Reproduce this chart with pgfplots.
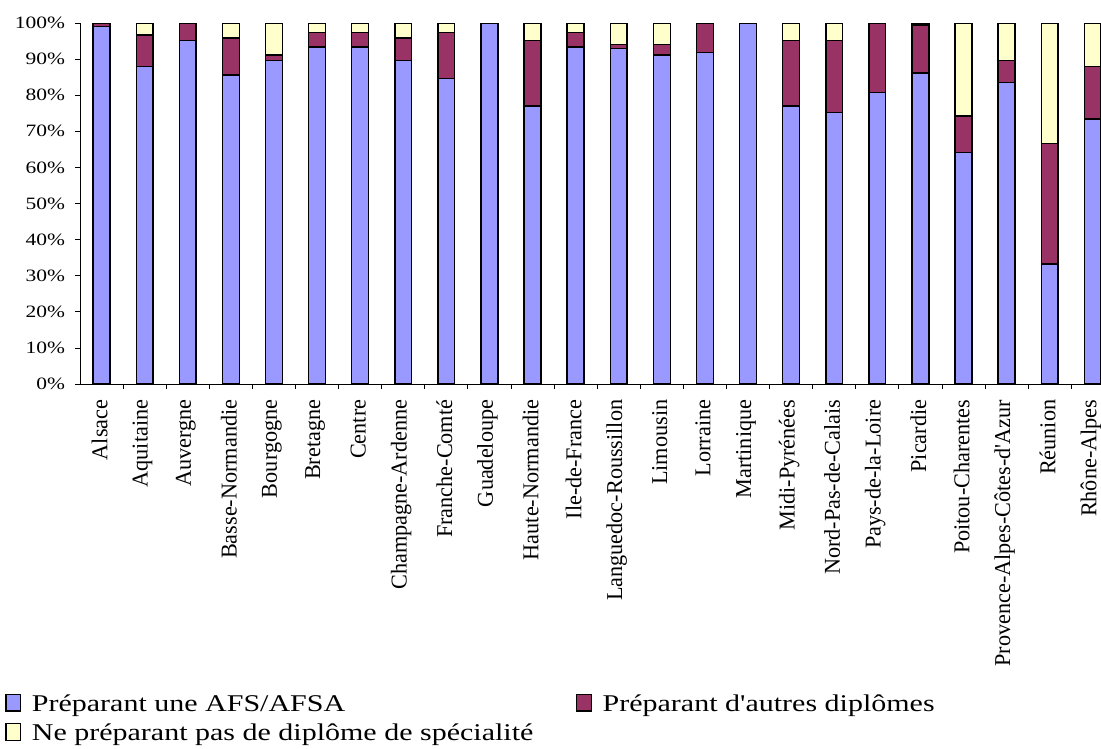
\documentclass[border=0pt]{standalone}
\usepackage{pgfplots}
\usepackage{pgfplotstable}
\pgfplotsset{compat=1.18}
\usepackage{fontspec}
\setmainfont{Liberation Serif}
\newfontfamily\tickfont[FakeStretch=1.24]{Liberation Serif}
\newfontfamily\xfont[FakeStretch=0.98]{Liberation Serif}
\newfontfamily\legfont[FakeStretch=1.25]{Liberation Serif}
\definecolor{cblue}{HTML}{9999FF}
\definecolor{cred}{HTML}{993366}
\definecolor{cyel}{HTML}{FFFFCC}

\pgfplotstableread{
x a b c
0 99.0 1.0 0.0
1 87.9 8.8 3.3
2 95.1 4.9 0.0
3 85.6 10.2 4.2
4 89.6 1.5 8.9
5 93.4 3.9 2.7
6 93.4 3.9 2.7
7 89.6 6.2 4.2
8 84.7 12.7 2.6
9 100 0 0
10 77.0 18.1 4.9
11 93.4 4.0 2.6
12 93.0 1.1 5.9
13 91.1 3.0 5.9
14 91.8 8.2 0
15 100 0 0
16 77.0 18.1 4.9
17 75.2 19.9 4.9
18 80.7 19.3 0
19 86.2 13.3 0.5
20 64.2 10.0 25.8
21 83.5 6.1 10.4
22 33.3 33.3 33.4
23 73.4 14.5 12.1
}\data

\begin{document}
\begin{tikzpicture}
\begin{axis}[
  at={(0,0)}, anchor=south west,
  scale only axis, width=765.75pt, height=270.75pt,
  xmin=-0.5, xmax=23.19, ymin=0, ymax=100,
  axis x line*=bottom, axis y line*=left,
  axis line style={line width=0.6pt, black},
  ybar stacked, bar width=0.39,
  xtick={0,...,23},
  xticklabels={Alsace,Aquitaine,Auvergne,Basse-Normandie,Bourgogne,Bretagne,Centre,Champagne-Ardenne,Franche-Comté,Guadeloupe,Haute-Normandie,Ile-de-France,Languedoc-Roussillon,Limousin,Lorraine,Martinique,Midi-Pyrénées,Nord-Pas-de-Calais,Pays-de-la-Loire,Picardie,Poitou-Charentes,Provence-Alpes-Côtes-d'Azur,Réunion,Rhône-Alpes},
  minor xtick={0.5,1.5,...,22.5},
  major x tick style={opacity=0},
  ytick={0,10,...,100},
  yticklabel={\pgfmathprintnumber{\tick}\%},
  /pgf/number format/assume math mode=true,
  tick align=outside, major tick length=3.75pt, minor tick length=3.75pt,
  tick style={black, line width=0.6pt},
  xticklabel style={xshift=-1.5pt, yshift=-4.5pt, rotate=90, anchor=east, font=\xfont\fontsize{17}{19}\selectfont},
  yticklabel style={font=\tickfont\fontsize{13}{15}\selectfont, xshift=-4pt},
  legend style={at={(axis description cs:-0.0735,-0.853)}, anchor=north west, draw=none, fill=none,
    font=\legfont\fontsize{18}{21}\selectfont, inner sep=0pt, row sep=4pt,
    /tikz/every odd column/.append style={column sep=6pt},
    /tikz/every even column/.append style={column sep=30pt}},
  legend columns=2,
  legend cell align=left,
]
\addplot[fill=cblue, draw=black, line width=1.1pt,
  legend image code/.code={\draw[fill=cblue,draw=black,line width=1pt] (0pt,-5pt) rectangle (11pt,7.5pt);}]
  table[x=x,y=a]{\data};
\addplot[fill=cred, draw=black, line width=1.1pt,
  legend image code/.code={\draw[fill=cred,draw=black,line width=1pt] (0pt,-5pt) rectangle (11pt,7.5pt);}]
  table[x=x,y=b]{\data};
\addplot[fill=cyel, draw=black, line width=1.1pt,
  legend image code/.code={\draw[fill=cyel,draw=black,line width=1pt] (0pt,-5pt) rectangle (11pt,7.5pt);}]
  table[x=x,y=c]{\data};
\legend{Préparant une AFS/AFSA,Préparant d'autres diplômes,Ne préparant pas de diplôme de spécialité}
\end{axis}
\pgfresetboundingbox
\useasboundingbox (-60pt,-273.75pt) rectangle (765.75pt,288pt);
\end{tikzpicture}
\end{document}
